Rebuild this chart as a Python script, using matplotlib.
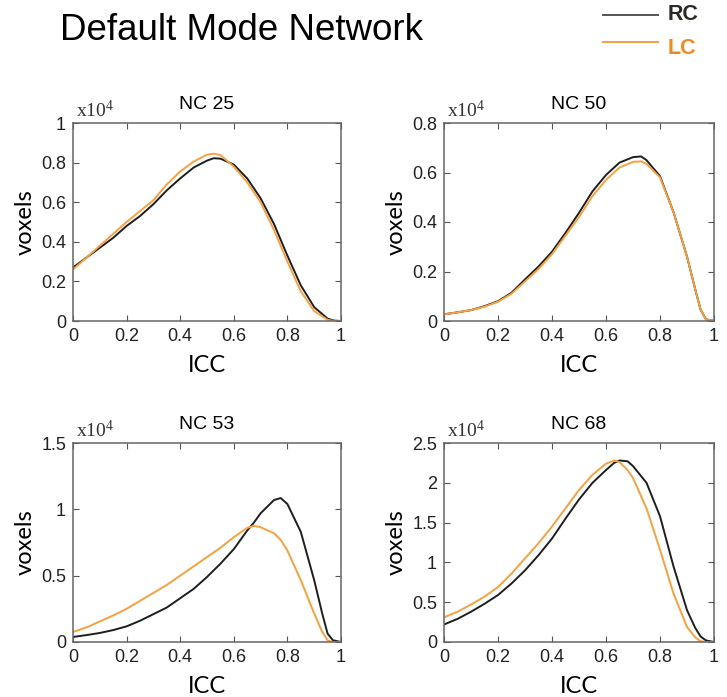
import numpy as np
import matplotlib.pyplot as plt

# ICC sample points and voxel counts (x10^4)
icc_25 = [0.0, 0.05, 0.1, 0.15, 0.2, 0.25, 0.3, 0.35, 0.4, 0.45, 0.5, 0.525, 0.55,
          0.6, 0.65, 0.7, 0.75, 0.8, 0.85, 0.9, 0.95, 0.975, 1.0]
nc25_rc = [0.27, 0.32, 0.37, 0.42, 0.48, 0.53, 0.59, 0.66, 0.72, 0.775, 0.81, 0.822, 0.82,
           0.79, 0.72, 0.62, 0.49, 0.33, 0.18, 0.07, 0.012, 0.002, 0.0]
nc25_lc = [0.26, 0.32, 0.38, 0.44, 0.50, 0.555, 0.61, 0.69, 0.755, 0.805, 0.84, 0.845, 0.838,
           0.78, 0.70, 0.60, 0.46, 0.30, 0.15, 0.05, 0.006, 0.0, 0.0]

icc_50 = [0.0, 0.05, 0.1, 0.15, 0.2, 0.25, 0.3, 0.35, 0.4, 0.45, 0.5, 0.55, 0.6, 0.65,
          0.7, 0.73, 0.75, 0.8, 0.85, 0.9, 0.93, 0.95, 0.97, 1.0]
nc50_rc = [0.027, 0.035, 0.044, 0.06, 0.08, 0.114, 0.168, 0.22, 0.28, 0.356, 0.437, 0.524,
           0.59, 0.64, 0.662, 0.665, 0.65, 0.585, 0.44, 0.26, 0.13, 0.047, 0.007, 0.0]
nc50_lc = [0.027, 0.035, 0.044, 0.058, 0.078, 0.11, 0.16, 0.21, 0.27, 0.345, 0.42, 0.505,
           0.57, 0.62, 0.643, 0.645, 0.635, 0.58, 0.44, 0.26, 0.13, 0.047, 0.007, 0.0]

icc_53 = [0.0, 0.05, 0.1, 0.15, 0.2, 0.25, 0.3, 0.35, 0.4, 0.45, 0.5, 0.55, 0.6, 0.65,
          0.675, 0.7, 0.75, 0.775, 0.8, 0.85, 0.9, 0.93, 0.95, 0.97, 1.0]
nc53_rc = [0.038, 0.052, 0.068, 0.09, 0.118, 0.16, 0.21, 0.26, 0.33, 0.40, 0.49, 0.59,
           0.70, 0.84, 0.90, 0.97, 1.07, 1.085, 1.04, 0.83, 0.466, 0.214, 0.063, 0.013, 0.0]
nc53_lc = [0.075, 0.11, 0.155, 0.20, 0.25, 0.31, 0.37, 0.43, 0.50, 0.57, 0.64, 0.71,
           0.79, 0.86, 0.875, 0.865, 0.82, 0.77, 0.69, 0.466, 0.214, 0.076, 0.013, 0.0, 0.0]

icc_68 = [0.0, 0.05, 0.1, 0.15, 0.2, 0.25, 0.3, 0.35, 0.4, 0.45, 0.5, 0.55, 0.6, 0.63,
          0.65, 0.68, 0.7, 0.75, 0.8, 0.85, 0.9, 0.93, 0.95, 0.97, 1.0]
nc68_rc = [0.22, 0.29, 0.38, 0.48, 0.59, 0.735, 0.90, 1.09, 1.30, 1.55, 1.79, 2.0, 2.16,
           2.25, 2.28, 2.27, 2.21, 2.0, 1.58, 0.95, 0.40, 0.18, 0.07, 0.02, 0.0]
nc68_lc = [0.31, 0.38, 0.47, 0.57, 0.69, 0.86, 1.05, 1.24, 1.45, 1.68, 1.91, 2.10, 2.24,
           2.28, 2.26, 2.16, 2.06, 1.68, 1.16, 0.61, 0.19, 0.06, 0.01, 0.0, 0.0]

titles = ['NC 25', 'NC 50', 'NC 53', 'NC 68']
icc_data = [icc_25, icc_50, icc_53, icc_68]
rc_data = [nc25_rc, nc50_rc, nc53_rc, nc68_rc]
lc_data = [nc25_lc, nc50_lc, nc53_lc, nc68_lc]
ymax = [1.0, 0.8, 1.5, 2.5]
yticks = [[0, 0.2, 0.4, 0.6, 0.8, 1],
          [0, 0.2, 0.4, 0.6, 0.8],
          [0, 0.5, 1, 1.5],
          [0, 0.5, 1, 1.5, 2, 2.5]]
xticks = [0, 0.2, 0.4, 0.6, 0.8, 1]

rc_col = '#1e1e1e'
lc_col = '#f7a040'

W, H = 727, 697
fig = plt.figure(figsize=(W / 100, H / 100), dpi=100)

# axes boxes in pixels: left, top, right, bottom
boxes = [(73, 123, 341, 321), (444, 123, 714, 321),
         (73, 443, 341, 642), (444, 443, 714, 642)]

def fmt(v):
    return '%g' % v

for i, (l, t, r, b) in enumerate(boxes):
    ax = fig.add_axes([l / W, 1 - b / H, (r - l) / W, (b - t) / H])
    ax.plot(icc_data[i], rc_data[i], color=rc_col, lw=1.4)
    ax.plot(icc_data[i], lc_data[i], color=lc_col, lw=1.4)
    ax.set_xlim(0, 1)
    ax.set_ylim(0, ymax[i])
    ax.set_xticks(xticks)
    ax.set_xticklabels([fmt(v) for v in xticks])
    ax.set_yticks(yticks[i])
    ax.set_yticklabels([fmt(v) for v in yticks[i]])
    ax.tick_params(direction='in', top=True, right=True, length=4,
                   labelsize=13, colors='#555555', labelcolor='#222222', pad=5)
    for s in ax.spines.values():
        s.set_color('#666666')
        s.set_linewidth(1.1)
    ax.set_title(titles[i], fontsize=14, pad=10, family='Liberation Sans')
    ax.set_xlabel('ICC', fontsize=17, labelpad=7, family='Lato')
    ax.set_ylabel('voxels', fontsize=17, labelpad=4, family='Lato')
    ax.text(0.012, 1.012, r'$\mathregular{x10^4}$', transform=ax.transAxes,
            family='Liberation Serif', fontsize=14, va='bottom', ha='left',
            color='#333333')
    for lab in ax.get_xticklabels() + ax.get_yticklabels():
        lab.set_family('Liberation Sans')

fig.text(60 / W, 1 - 31 / H, 'Default Mode Network', fontsize=26.5,
         family='Liberation Sans', va='center', ha='left')

# legend drawn in figure coords
fig.add_artist(plt.Line2D([603 / W, 658 / W], [1 - 15 / H, 1 - 15 / H],
                          color='#555555', lw=1.4))
fig.add_artist(plt.Line2D([603 / W, 658 / W], [1 - 42 / H, 1 - 42 / H],
                          color=lc_col, lw=1.4))
fig.text(668 / W, 1 - 15 / H, 'RC', fontsize=15.5, fontweight='bold',
         color='#2a2a22', va='center', ha='left', family='Liberation Sans')
fig.text(668 / W, 1 - 48 / H, 'LC', fontsize=15.5, fontweight='bold',
         color='#f08a20', va='center', ha='left', family='Liberation Sans')

fig.savefig('out.png', dpi=100)
